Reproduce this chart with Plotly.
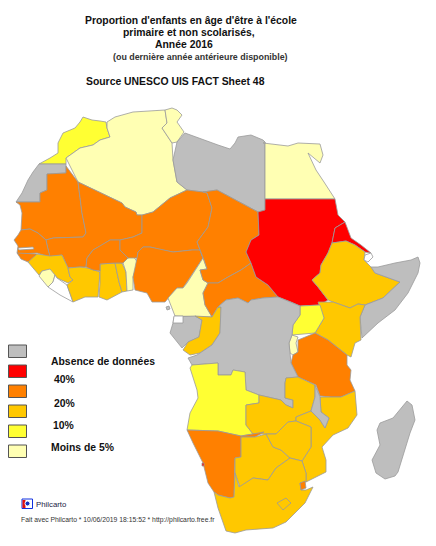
import plotly.graph_objects as go

# out-of-school rate class of each country (None = no fill, white on the map)
NO_DATA, UNDER_5, RATE_10, RATE_20, RATE_40, ABOVE_40 = range(6)

legend_classes = [NO_DATA, ABOVE_40, RATE_40, RATE_20, RATE_10, UNDER_5]
legend_labels = ["Absence de données", "40%", "20%", "10%", "Moins de 5%"]

class_colors = {
    NO_DATA: "#BEBEBE",
    ABOVE_40: "#FF0000",
    RATE_40: "#FF8000",
    RATE_20: "#FFC800",
    RATE_10: "#FFFF33",
    UNDER_5: "#FFFFB3",
    None: "#FFFFFF",
}

# country outlines (x, y in map units)
morocco = [(83,117),(92,120),(100,121),(106,122),(107,128),(110,137),(100,140),(93,145),(80,148),(66,158),(66,164),(39,164),(50,158),(58,153),(58,143),(63,133),(75,128),(80,122)]
western_sahara = [(39,164),(66,164),(66,173),(47,174),(47,190),(40,193),(40,202),(16,202),(22,193),(28,180),(33,172)]
algeria = [(107,122),(115,117),(133,112),(165,110),(167,123),(162,128),(172,143),(173,160),(177,182),(187,190),(170,198),(153,212),(143,215),(137,215),(136,212),(125,207),(122,203),(78,182),(72,170),(66,158),(80,148),(93,145),(100,140),(110,137),(107,128)]
tunisia = [(165,110),(172,108),(177,110),(182,115),(177,122),(184,132),(177,142),(172,143),(162,128),(167,123)]
libya = [(185,133),(177,142),(173,160),(177,182),(187,190),(203,192),(217,190),(258,212),(265,210),(265,142),(263,140),(251,135),(238,137),(235,143),(230,149),(218,145)]
egypt = [(263,143),(288,146),(298,143),(320,144),(323,155),(320,163),(308,153),(316,170),(324,182),(335,199),(265,199),(265,142)]
mauritania = [(47,174),(66,173),(66,166),(78,182),(82,213),(86,233),(83,237),(53,238),(46,240),(38,233),(30,229),(21,230),(22,213),(20,205),(16,202),(40,202),(40,193),(47,190)]
mali = [(78,182),(122,203),(125,207),(136,212),(137,215),(142,215),(142,233),(133,237),(120,240),(110,240),(102,245),(93,250),(87,258),(86,267),(80,267),(68,268),(62,255),(50,257),(47,245),(46,240),(53,238),(83,237),(86,233),(82,213)]
senegal = [(21,230),(30,229),(38,233),(46,240),(47,245),(50,257),(37,253),(20,254),(17,253),(18,248),(18,246),(14,240),(18,235)]
gambia = [(18,248),(33,247),(34,249),(19,250)]
guinea_bissau = [(17,253),(37,254),(35,259),(28,262),(21,259)]
guinea = [(37,254),(50,256),(62,255),(68,268),(70,277),(73,280),(68,283),(57,278),(50,270),(42,271),(39,275),(28,262)]
sierra_leone = [(39,276),(42,271),(50,269),(55,275),(53,282),(48,287)]
liberia = [(48,287),(53,282),(55,275),(57,278),(67,285),(73,302),(60,295)]
ivory_coast = [(68,268),(80,267),(88,268),(100,272),(98,297),(85,297),(73,302),(67,285),(73,280),(70,277)]
ghana = [(100,264),(115,263),(119,282),(122,292),(107,300),(99,297),(100,283)]
togo = [(115,263),(122,263),(126,272),(127,291),(122,292),(119,282)]
benin = [(123,263),(128,258),(133,256),(138,263),(133,277),(133,290),(127,291),(126,272)]
burkina = [(86,267),(87,258),(93,250),(102,245),(110,240),(120,240),(120,250),(128,258),(123,263),(115,263),(100,264),(100,271),(93,270)]
niger = [(142,215),(153,212),(170,198),(187,190),(203,192),(207,193),(212,208),(208,227),(197,242),(200,250),(192,250),(173,252),(163,250),(150,247),(143,247),(138,252),(137,258),(128,258),(120,250),(120,240),(133,237),(142,233)]
nigeria = [(138,252),(143,247),(150,247),(163,250),(173,252),(192,250),(200,250),(203,258),(197,267),(187,283),(183,288),(177,288),(168,298),(165,302),(152,302),(147,293),(135,290),(133,277),(137,258)]
cameroon = [(200,250),(204,260),(207,269),(200,270),(203,280),(208,283),(203,293),(205,305),(212,317),(175,316),(168,298),(177,288),(183,288),(187,283),(197,267),(203,258)]
chad = [(203,192),(217,190),(258,212),(259,235),(251,240),(246,252),(251,263),(241,270),(228,277),(218,283),(208,283),(203,280),(200,270),(207,269),(204,260),(200,250),(197,242),(208,227),(212,208),(207,193)]
car = [(208,283),(218,283),(228,277),(241,270),(251,263),(256,277),(268,285),(278,297),(263,298),(251,300),(248,303),(238,298),(226,300),(218,307),(212,317),(205,305),(203,293)]
sudan = [(265,199),(335,199),(338,215),(345,222),(335,228),(332,243),(328,253),(321,265),(320,273),(312,280),(318,287),(328,300),(320,305),(300,306),(291,302),(278,297),(268,285),(256,277),(251,263),(246,252),(251,240),(259,235),(258,212),(265,210)]
eritrea = [(345,222),(351,238),(361,245),(371,253),(365,252),(355,245),(346,241),(332,243),(335,228)]
ethiopia = [(332,243),(346,241),(355,245),(365,252),(364,260),(371,267),(375,273),(400,282),(383,298),(365,305),(358,304),(350,308),(333,302),(328,300),(318,287),(312,280),(320,273),(321,265),(328,253)]
djibouti = [(364,260),(365,255),(371,253),(373,257),(368,262)]
somalia = [(371,267),(378,267),(395,263),(411,260),(418,257),(420,263),(418,273),(408,293),(395,310),(378,323),(362,338),(360,317),(365,305),(383,298),(400,282),(375,273)]
kenya = [(318,302),(333,302),(350,308),(358,304),(365,305),(360,317),(361,340),(355,343),(351,357),(347,355),(328,340),(315,333),(324,318)]
uganda = [(300,306),(320,305),(324,318),(315,333),(292,335),(293,325),(300,315)]
rwanda_burundi = [(292,335),(298,337),(296,343),(298,352),(293,355),(290,353),(289,343)]
tanzania = [(298,340),(315,333),(328,340),(347,355),(347,365),(351,370),(350,380),(355,391),(341,397),(331,397),(320,396),(316,385),(298,377),(291,363),(293,355),(298,352)]
gabon = [(173,323),(174,317),(195,316),(202,320),(199,337),(188,342),(182,348),(170,333)]
eq_guinea = [(174,316),(183,316),(183,323),(173,323)]
bioko = [(166,307),(169,306),(170,309),(167,310)]
congo = [(195,316),(212,317),(218,307),(221,307),(220,333),(212,345),(200,353),(190,355),(183,350),(188,342),(199,337),(202,320)]
drc = [(218,307),(226,300),(238,298),(248,303),(251,300),(263,298),(278,297),(291,302),(300,306),(300,315),(293,325),(292,335),(289,343),(290,353),(291,363),(298,377),(286,378),(285,383),(285,398),(293,400),(293,408),(286,405),(281,400),(259,395),(246,390),(245,372),(233,370),(231,375),(218,375),(218,363),(192,365),(188,358),(197,355),(212,345),(220,333),(221,307)]
angola = [(192,365),(218,363),(218,375),(231,375),(233,370),(245,372),(246,390),(259,395),(259,403),(246,405),(246,425),(253,434),(241,436),(218,431),(187,430),(190,413),(198,398),(197,390),(190,368)]
zambia = [(286,378),(298,377),(315,385),(315,397),(311,411),(296,417),(296,421),(288,422),(276,434),(266,434),(253,434),(246,425),(246,405),(259,403),(259,395),(281,400),(286,405),(293,408),(293,400),(285,398),(285,383)]
malawi = [(315,385),(320,397),(321,412),(329,418),(325,428),(320,420),(311,411),(315,397)]
mozambique = [(320,397),(331,397),(341,397),(355,391),(357,415),(348,428),(333,435),(322,447),(326,460),(326,472),(313,478),(306,482),(306,473),(302,461),(311,447),(311,427),(296,421),(296,417),(311,411),(320,420),(325,428),(329,418),(321,412)]
namibia = [(187,430),(218,431),(241,436),(264,432),(255,437),(241,437),(241,457),(235,458),(234,497),(230,498),(218,495),(214,492),(208,483),(203,463),(193,443)]
walvis_bay = [(202,463),(204,463),(204,466),(202,466)]
botswana = [(241,437),(255,437),(266,434),(273,447),(281,450),(290,458),(276,468),(268,480),(253,478),(240,487),(235,473),(235,458),(241,457)]
zimbabwe = [(266,434),(276,434),(288,422),(296,421),(311,427),(311,447),(302,461),(290,458),(281,450),(273,447)]
south_africa = [(235,473),(239,487),(253,478),(268,480),(276,468),(290,458),(302,461),(306,473),(306,482),(300,483),(301,490),(306,490),(313,487),(305,503),(286,522),(273,528),(246,530),(235,533),(226,531),(223,522),(218,508),(214,492),(218,495),(230,498),(234,497)]
lesotho = [(277,503),(286,498),(291,503),(283,510)]
swaziland = [(300,483),(305,481),(306,488),(301,490)]
madagascar = [(407,401),(412,405),(415,420),(410,433),(398,472),(395,476),(385,479),(376,473),(372,460),(380,445),(377,430),(380,423),(393,418),(401,408)]

countries = [
    (morocco, RATE_10), (western_sahara, NO_DATA), (algeria, UNDER_5), (tunisia, UNDER_5),
    (libya, NO_DATA), (egypt, UNDER_5), (mauritania, RATE_40), (mali, RATE_40),
    (senegal, RATE_40), (gambia, None), (guinea_bissau, RATE_40), (guinea, RATE_20),
    (sierra_leone, UNDER_5), (liberia, None), (ivory_coast, RATE_20), (ghana, RATE_20),
    (togo, RATE_20), (benin, UNDER_5), (burkina, RATE_40), (niger, RATE_40),
    (nigeria, RATE_40), (cameroon, UNDER_5), (chad, RATE_40), (car, RATE_40),
    (sudan, ABOVE_40), (eritrea, ABOVE_40), (ethiopia, RATE_20), (djibouti, None),
    (somalia, NO_DATA), (kenya, RATE_20), (uganda, RATE_10), (rwanda_burundi, UNDER_5),
    (tanzania, RATE_40), (gabon, NO_DATA), (eq_guinea, None), (bioko, NO_DATA),
    (congo, RATE_20), (drc, NO_DATA), (angola, RATE_10), (zambia, RATE_20),
    (mozambique, RATE_20), (malawi, NO_DATA), (namibia, RATE_40), (walvis_bay, ABOVE_40),
    (botswana, RATE_20), (zimbabwe, RATE_20), (south_africa, RATE_20), (lesotho, RATE_20),
    (swaziland, RATE_40), (madagascar, NO_DATA),
]

fig = go.Figure()

for outline, rate_class in countries:
    xs = [p[0] for p in outline] + [outline[0][0]]
    ys = [p[1] for p in outline] + [outline[0][1]]
    fig.add_trace(go.Scatter(
        x=xs, y=ys, mode="lines", fill="toself",
        fillcolor=class_colors[rate_class],
        line=dict(color="#9A9A9A", width=0.8),
        hoverinfo="skip", showlegend=False,
    ))


def add_text(x, y, text, size, color="#111111", anchor="left"):
    # annotations carry a couple of px of padding on the left
    fig.add_annotation(
        x=x - 2 if anchor == "left" else x, y=y, text=text, showarrow=False,
        xanchor=anchor, yanchor="middle",
        font=dict(family="Liberation Sans", size=size, color=color),
    )


# header
add_text(190.5, 20, "<b>Proportion d'enfants en âge d'être à l'école</b>", 10.4, anchor="center")
add_text(189, 32, "<b>primaire et non scolarisés,</b>", 10.4, anchor="center")
add_text(184, 44, "<b>Année 2016</b>", 10.4, anchor="center")
add_text(200, 57, "<b>(ou dernière année antérieure disponible)</b>", 8.9, color="#333333", anchor="center")
add_text(86, 81, "<b>Source UNESCO UIS FACT Sheet 48</b>", 10.4)

# legend swatches
for i, rate_class in enumerate(legend_classes):
    fig.add_shape(
        type="rect", x0=8.5, x1=26.5, y0=345 + 20 * i, y1=357.5 + 20 * i,
        fillcolor=class_colors[rate_class], line=dict(color="#555555", width=1),
    )

legend_text_x = [51, 54, 54, 53, 51]
legend_text_y = [361, 379, 403, 425, 447]
for label, x, y in zip(legend_labels, legend_text_x, legend_text_y):
    add_text(x, y, f"<b>{label}</b>", 10.4)

# Philcarto logo and footer
fig.add_shape(type="rect", x0=22, x1=32.5, y0=499, y1=508.5, fillcolor="#FFFFFF", line=dict(color="#1030E0", width=1))
fig.add_shape(type="rect", x0=22.5, x1=25.5, y0=500, y1=508, fillcolor="#E01010", line=dict(width=0))
fig.add_shape(type="circle", x0=25, x1=30, y0=501, y1=506, fillcolor="#1030C0", line=dict(color="#FFFFFF", width=1))
add_text(36, 504, "Philcarto", 7.8, color="#222244")
add_text(21, 520, "Fait avec Philcarto * 10/06/2019 18:15:52 * http://philcarto.free.fr", 6.8, color="#333333")

fig.update_layout(
    width=436, height=546,
    margin=dict(l=0, r=0, t=0, b=0),
    paper_bgcolor="white", plot_bgcolor="white",
    xaxis=dict(range=[0, 436], visible=False, fixedrange=True),
    yaxis=dict(range=[546, 0], visible=False, fixedrange=True),
    showlegend=False,
)

fig.write_html("out.html", config={"displayModeBar": False}, post_script="document.body.style.margin = '0';")
